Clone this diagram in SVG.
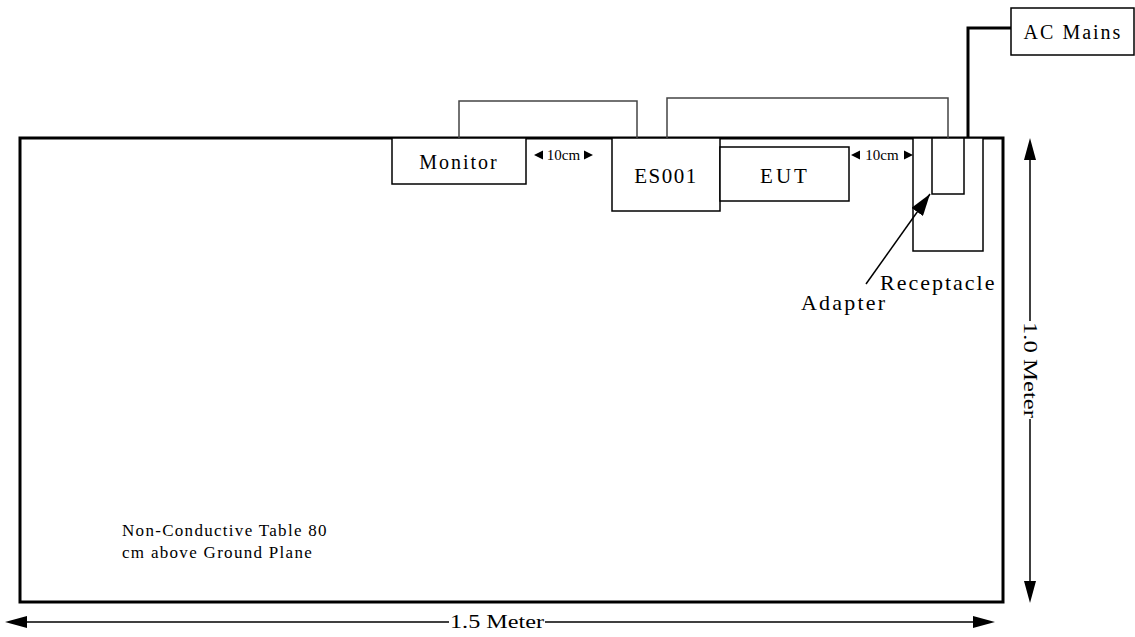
<svg xmlns="http://www.w3.org/2000/svg" width="1135" height="637" viewBox="0 0 1135 637">
<style>
text{font-family:"Liberation Serif","Times New Roman",serif;fill:#000}
.box{fill:#fff;stroke:#000;stroke-width:1.5}
.cable{fill:none;stroke:#444;stroke-width:1.5}
.lbl{font-size:20px;letter-spacing:1.5px}
.dim{font-size:15px}
.tri{fill:#000}
.dl{stroke:#000;stroke-width:1.5;fill:none}
</style>
<defs>
<marker id="ah" viewBox="0 0 22 14" refX="22" refY="7" markerWidth="22" markerHeight="14" markerUnits="userSpaceOnUse" orient="auto">
<path d="M0,0 L22,7 L0,14 Z" fill="#000"/>
</marker>
</defs>
<g id="table">
<rect x="20" y="138" width="983" height="464" fill="#fff" stroke="#000" stroke-width="3"/>
<text x="122" y="536" style="font-size:17px;letter-spacing:1.3px">Non-Conductive Table 80</text>
<text x="122" y="558" style="font-size:17px;letter-spacing:1.3px">cm above Ground Plane</text>
</g>
<g id="monitor">
<rect class="box" x="392" y="138" width="134" height="46"/>
<text class="lbl" x="459" y="169" text-anchor="middle" style="letter-spacing:2px">Monitor</text>
</g>
<g id="es001">
<rect class="box" x="612" y="138" width="108" height="73"/>
<text class="lbl" x="666" y="183" text-anchor="middle" style="font-size:21px">ES001</text>
</g>
<g id="eut">
<rect class="box" x="720" y="147" width="129" height="54"/>
<text class="lbl" x="785" y="183" text-anchor="middle" style="font-size:21px;letter-spacing:3px">EUT</text>
</g>
<g id="receptacle">
<rect class="box" x="913" y="138" width="70" height="113"/>
<text x="880" y="290" style="font-size:22px;letter-spacing:2px">Receptacle</text>
</g>
<g id="adapter">
<rect class="box" x="932" y="138" width="32" height="56"/>
<text x="801" y="310" style="font-size:22px;letter-spacing:2.2px">Adapter</text>
</g>
<g id="ac-mains">
<rect class="box" x="1011" y="8" width="123" height="47"/>
<text class="lbl" x="1073" y="39" text-anchor="middle" style="letter-spacing:2px">AC Mains</text>
</g>
<g id="connectors">
<polyline class="cable" points="459,138 459,101 637,101 637,138"/>
<polyline class="cable" points="667,138 667,98 948,98 948,138"/>
<polyline fill="none" stroke="#000" stroke-width="3" points="968,138 968,28 1011,28"/>
<line class="dl" x1="866" y1="284" x2="930" y2="194" marker-end="url(#ah)"/>
</g>
<g id="dim-monitor-es001">
<path class="tri" d="M534,155 L543,150.5 L543,159.5 Z"/>
<text class="dim" x="563.5" y="160" text-anchor="middle">10cm</text>
<path class="tri" d="M593,155 L584,150.5 L584,159.5 Z"/>
</g>
<g id="dim-eut-receptacle">
<path class="tri" d="M851,155 L860,150.5 L860,159.5 Z"/>
<text class="dim" x="882" y="160" text-anchor="middle">10cm</text>
<path class="tri" d="M913,155 L904,150.5 L904,159.5 Z"/>
</g>
<g id="dim-height">
<line class="dl" x1="1030" y1="150" x2="1030" y2="321"/>
<line class="dl" x1="1030" y1="419" x2="1030" y2="590"/>
<path class="tri" d="M1030,138 L1036,160 L1024,160 Z"/>
<path class="tri" d="M1030,603 L1036,581 L1024,581 Z"/>
<text x="1030" y="370" text-anchor="middle" dominant-baseline="central" transform="rotate(90 1030 370)" style="font-size:19px" textLength="96" lengthAdjust="spacingAndGlyphs">1.0 Meter</text>
</g>
<g id="dim-width">
<line class="dl" x1="20" y1="622" x2="449" y2="622"/>
<line class="dl" x1="545" y1="622" x2="975" y2="622"/>
<path class="tri" d="M5,622 L27,616 L27,628 Z"/>
<path class="tri" d="M995,622 L973,616 L973,628 Z"/>
<text x="497" y="628" text-anchor="middle" style="font-size:19px" textLength="94" lengthAdjust="spacingAndGlyphs">1.5 Meter</text>
</g>
</svg>
